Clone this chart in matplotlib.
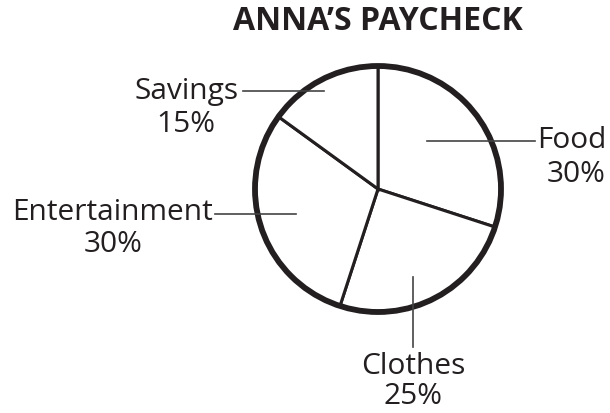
import matplotlib
matplotlib.use("Agg")
import matplotlib.pyplot as plt
from matplotlib.patches import Circle

title = "ANNA’S PAYCHECK"
categories = ["Food", "Clothes", "Entertainment", "Savings"]
values = [30, 25, 30, 15]
pct_labels = ["30%", "25%", "30%", "15%"]

W, H = 610, 413
fig = plt.figure(figsize=(W / 100, H / 100), dpi=100)
ax = fig.add_axes([0, 0, 1, 1])

def Y(y):
    return H - y

ink = "#231f20"
cx, cy, r = 378, Y(189), 123

ax.pie(values, center=(cx, cy), radius=r, startangle=90, counterclock=False,
       colors=["white"] * len(values),
       wedgeprops=dict(edgecolor=ink, linewidth=2.2))
ax.add_patch(Circle((cx, cy), r, fill=False, edgecolor=ink, linewidth=4.2, zorder=5))

ax.set_xlim(0, W)
ax.set_ylim(0, H)
ax.set_aspect("auto")
ax.axis("off")

font = "Open Sans"
fs = 21.5
lc = "#444444"
lw = 1.2

# title
ax.text(378, Y(22), title, ha="center", va="center", fontsize=23,
        fontweight="bold", family=font, color=ink)

# Food
ax.plot([427, 535], [Y(141), Y(141)], color=lc, lw=lw, zorder=6)
ax.text(606, Y(141), categories[0], ha="right", va="center", fontsize=fs, family=font, color=ink)
ax.text(606, Y(174), pct_labels[0], ha="right", va="center", fontsize=fs, family=font, color=ink)

# Clothes
ax.plot([413, 413], [Y(277), Y(347)], color=lc, lw=lw, zorder=6)
ax.text(413, Y(366), categories[1], ha="center", va="center", fontsize=fs, family=font, color=ink)
ax.text(413, Y(397), pct_labels[1], ha="center", va="center", fontsize=fs, family=font, color=ink)

# Entertainment
ax.plot([215, 296], [Y(214), Y(214)], color=lc, lw=lw, zorder=6)
ax.text(213, Y(213), categories[2], ha="right", va="center", fontsize=fs, family=font, color=ink)
ax.text(113, Y(244), pct_labels[2], ha="center", va="center", fontsize=fs, family=font, color=ink)

# Savings
ax.plot([243, 324], [Y(91), Y(91)], color=lc, lw=lw, zorder=6)
ax.text(239, Y(92), categories[3], ha="right", va="center", fontsize=fs, family=font, color=ink)
ax.text(186, Y(125), pct_labels[3], ha="center", va="center", fontsize=fs, family=font, color=ink)

fig.savefig("out.png", dpi=100, facecolor="white")
